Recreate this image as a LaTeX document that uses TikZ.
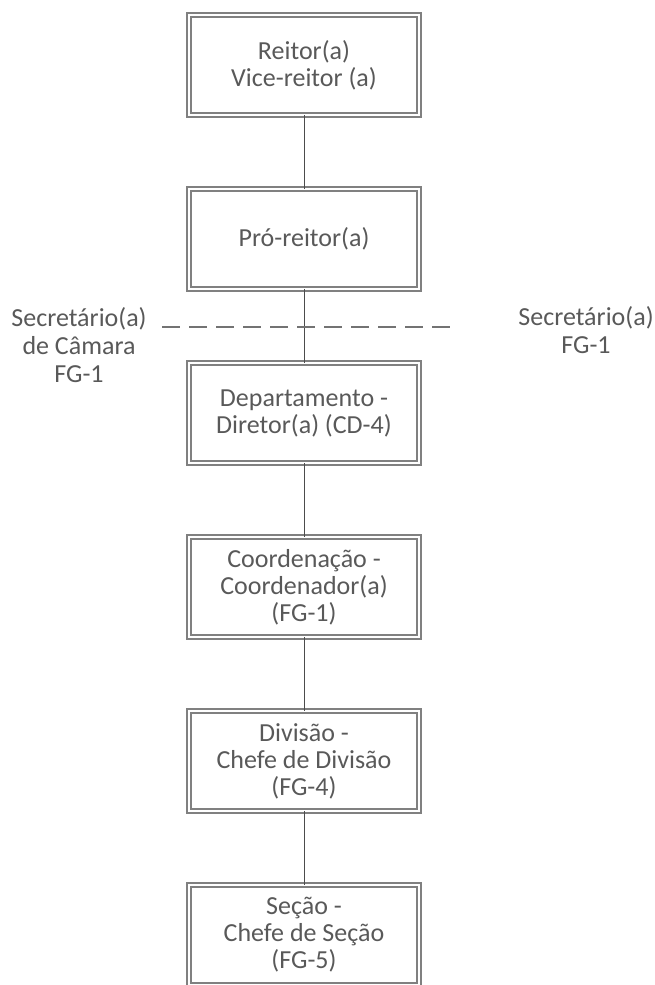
\documentclass[tikz,border=0pt]{standalone}
\usepackage{fontspec}
\setmainfont{Carlito}
\usepackage{tikz}
\usetikzlibrary{positioning}
\usepackage{xcolor}

\begin{document}
\begin{tikzpicture}[
    x=1pt, y=1pt,
    node distance=74pt,
    cargo/.style={rectangle, minimum width=230pt, minimum height=100pt, text centered, align=center, outer sep=0pt,
        draw=black!50, line width=1.3pt, double=white, double distance=2.5pt, text=black!65,
        font=\fontsize{26pt}{27pt}\selectfont},
    rotulo/.style={align=center, text=black!65, font=\fontsize{26pt}{28pt}\selectfont},
    conn/.style={draw=black!70, line width=0.8pt},
    tracejado/.style={draw=black!55, line width=1.4pt, dash pattern=on 18pt off 9pt}
]
\useasboundingbox (0,0) rectangle (655,-985);

% primeiro nível: reitoria
\node (reitor) [cargo] at (304,-65) {Reitor(a)\\Vice-reitor (a)};

% segundo nível: pró-reitoria
\node (proreitor) [cargo, below=of reitor] {Pró-reitor(a)};

% terceiro nível: departamento
\node (depto) [cargo, below=of proreitor] {Departamento -\\Diretor(a) (CD-4)};

% quarto nível: coordenação
\node (coord) [cargo, below=of depto] {Coordenação -\\Coordenador(a)\\(FG-1)};

% quinto nível: divisão
\node (divisao) [cargo, below=of coord] {Divisão -\\Chefe de Divisão\\(FG-4)};

% sexto nível: seção
\node (secao) [cargo, below=of divisao] {Seção -\\Chefe de Seção\\(FG-5)};

% secretarias
\node (secCamara) [rotulo] at (79,-345) {Secretário(a)\\de Câmara\\FG-1};
\node (secFG) [rotulo] at (586,-330) {Secretário(a)\\FG-1};
\coordinate (tracoE) at (162,-327);
\coordinate (tracoD) at (457,-327);

% ligações
\draw [conn] (reitor) -- (proreitor);
\draw [conn] (proreitor) -- (depto);
\draw [conn] (depto) -- (coord);
\draw [conn] (coord) -- (divisao);
\draw [conn] (divisao) -- (secao);
\draw [tracejado] (tracoE) -- (tracoD);

\end{tikzpicture}
\end{document}
